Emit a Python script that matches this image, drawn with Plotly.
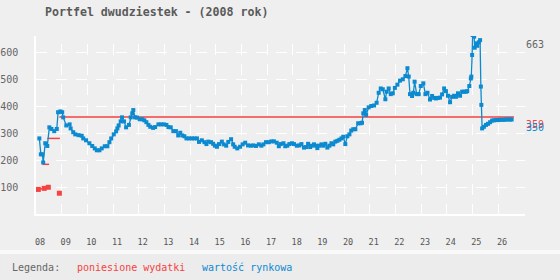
import plotly.graph_objects as go

# ---------------- data ----------------
value_dates = [
    2008.13, 2008.19, 2008.25, 2008.28, 2008.36, 2008.44, 2008.52, 2008.60, 2008.71, 2008.81,
    2008.86, 2008.95, 2009.02, 2009.06, 2009.18, 2009.31, 2009.35, 2009.45, 2009.53, 2009.66,
    2009.78, 2009.84, 2009.95, 2010.08, 2010.19, 2010.29, 2010.37, 2010.47, 2010.56, 2010.68,
    2010.78, 2010.86, 2010.93, 2011.03, 2011.12, 2011.17, 2011.22, 2011.30, 2011.35, 2011.43,
    2011.51, 2011.62, 2011.69, 2011.75, 2011.79, 2011.86, 2011.94, 2012.04, 2012.14, 2012.22,
    2012.30, 2012.38, 2012.45, 2012.56, 2012.64, 2012.77, 2012.87, 2012.98, 2013.08, 2013.16,
    2013.25, 2013.35, 2013.45, 2013.54, 2013.62, 2013.70, 2013.78, 2013.86, 2013.96, 2014.07,
    2014.17, 2014.27, 2014.35, 2014.46, 2014.56, 2014.64, 2014.71, 2014.82, 2014.90, 2014.97,
    2015.05, 2015.13, 2015.24, 2015.31, 2015.41, 2015.49, 2015.60, 2015.68, 2015.74, 2015.84,
    2015.95, 2016.05, 2016.15, 2016.26, 2016.37, 2016.47, 2016.57, 2016.68, 2016.78, 2016.86,
    2016.96, 2017.07, 2017.17, 2017.27, 2017.38, 2017.46, 2017.53, 2017.64, 2017.71, 2017.79,
    2017.87, 2017.97, 2018.05, 2018.16, 2018.26, 2018.34, 2018.44, 2018.52, 2018.60, 2018.68,
    2018.75, 2018.83, 2018.91, 2018.96, 2019.04, 2019.12, 2019.19, 2019.27, 2019.35, 2019.43,
    2019.51, 2019.58, 2019.66, 2019.74, 2019.82, 2019.90, 2019.97, 2020.05, 2020.13, 2020.21,
    2020.28, 2020.36, 2020.44, 2020.55, 2020.65, 2020.70, 2020.75, 2020.81, 2020.86, 2020.96,
    2021.06, 2021.17, 2021.27, 2021.35, 2021.43, 2021.51, 2021.61, 2021.66, 2021.74, 2021.82,
    2021.90, 2021.98, 2022.08, 2022.18, 2022.29, 2022.39, 2022.47, 2022.52, 2022.57, 2022.65,
    2022.70, 2022.75, 2022.83, 2022.91, 2022.99, 2023.09, 2023.17, 2023.25, 2023.35, 2023.43,
    2023.51, 2023.58, 2023.66, 2023.74, 2023.82, 2023.90, 2023.97, 2024.05, 2024.13, 2024.21,
    2024.29, 2024.36, 2024.44, 2024.52, 2024.60, 2024.68, 2024.75, 2024.80, 2024.88, 2024.94,
    2024.96, 2024.99, 2025.01, 2025.07, 2025.09, 2025.14, 2025.19, 2025.25, 2025.30, 2025.33,
    2025.35, 2025.38, 2025.45, 2025.53, 2025.61, 2025.69, 2025.77, 2025.84, 2025.92, 2026.00,
    2026.08, 2026.16, 2026.23, 2026.31, 2026.39, 2026.47, 2026.53,
]
market_values = [
    280, 221, 221, 191, 262, 252, 321, 315, 307, 315,
    377, 380, 377, 358, 328, 332, 317, 303, 295, 292,
    290, 280, 273, 262, 252, 243, 236, 236, 243, 251,
    251, 266, 280, 295, 306, 317, 328, 343, 358, 343,
    321, 330, 358, 373, 385, 358, 357, 351, 351, 347,
    340, 330, 323, 319, 322, 332, 332, 332, 330, 322,
    321, 307, 307, 291, 301, 291, 288, 280, 280, 280,
    280, 280, 267, 273, 266, 259, 268, 266, 260, 253,
    249, 259, 268, 258, 253, 267, 277, 258, 249, 243,
    249, 258, 264, 254, 253, 254, 252, 258, 253, 258,
    266, 266, 269, 269, 264, 251, 259, 262, 251, 253,
    259, 262, 259, 253, 254, 259, 246, 248, 260, 248,
    253, 258, 253, 244, 253, 258, 253, 260, 246, 253,
    262, 258, 268, 271, 275, 280, 286, 259, 288, 295,
    309, 314, 314, 336, 336, 338, 373, 385, 367, 395,
    400, 402, 412, 449, 465, 462, 425, 453, 465, 444,
    447, 467, 479, 494, 499, 511, 540, 509, 444, 437,
    449, 490, 444, 444, 474, 484, 444, 449, 424, 437,
    430, 428, 430, 431, 443, 465, 455, 438, 414, 434,
    438, 434, 447, 438, 453, 453, 453, 455, 474, 502,
    509, 589, 663, 657, 616, 632, 623, 636, 644, 472,
    404, 317, 323, 330, 334, 340, 346, 347, 348, 348,
    349, 349, 349, 350, 350, 350, 350,
]

# incurred expenses: single early payments (None = not connected)
expense_point_dates = [2008.09, 2008.32, None, 2008.48, None, 2008.91]
expense_point_vals = [91, 95, None, 99, None, 77]

# incurred expenses: cumulative levels (start, end, value)
level_start = [2008.25, 2008.44, 2008.91]
level_end = [2008.51, 2008.93, 2026.62]
level_vals = [184, 280, 359]

year_ticks = list(range(2008, 2027))
year_labels = [f"{y % 100:02d}" for y in year_ticks]
value_ticks = [100, 200, 300, 400, 500, 600]

RED = "#f64242"
BLUE = "#0c8ad0"
GRAY = "#666666"
MONO = "DejaVu Sans Mono"

# ---------------- figure ----------------
fig = go.Figure()

lx, ly = [], []
for s, e, v in zip(level_start, level_end, level_vals):
    lx += [s, e, None]
    ly += [v, v, None]

fig.add_trace(go.Scatter(x=lx, y=ly, mode="lines", line=dict(color=RED, width=1.5),
                         connectgaps=False, showlegend=False, hoverinfo="skip"))
fig.add_trace(go.Scatter(x=expense_point_dates, y=expense_point_vals, mode="lines+markers",
                         line=dict(color=RED, width=1.5),
                         marker=dict(symbol="square", size=5, color=RED),
                         connectgaps=False, showlegend=False))
fig.add_trace(go.Scatter(x=value_dates, y=market_values, mode="lines+markers",
                         line=dict(color=BLUE, width=1.3),
                         marker=dict(symbol="square", size=4, color=BLUE, line=dict(width=0)),
                         showlegend=False))

fig.update_layout(
    width=560, height=280,
    margin=dict(l=36, r=35, t=36, b=66, autoexpand=False),
    paper_bgcolor="#efefef",
    plot_bgcolor="#efefef",
    title=dict(text="<b>Portfel dwudziestek - (2008 rok)</b>", x=45 / 560, xanchor="left",
               y=1 - 12 / 280, yanchor="middle",
               font=dict(family=MONO, size=11.6, color="#5a5a5a")),
)

fig.update_xaxes(
    range=[2008, 2027.05], tickmode="array", tickvals=year_ticks, ticktext=year_labels,
    showgrid=True, gridcolor="white", gridwidth=1, griddash="0px,8px,11px,1px",
    showline=True, linecolor="white", linewidth=1.5, zeroline=False, automargin=False,
    ticks="", ticklabelshift=4, ticklabelstandoff=19,
    tickfont=dict(family=MONO, size=8.5, color="#555555"),
)
fig.update_yaxes(
    range=[0, 659.3], tickmode="array", tickvals=value_ticks,
    showgrid=True, gridcolor="white", gridwidth=1, griddash="11px,9px",
    showline=True, linecolor="white", linewidth=1.5, zeroline=False, automargin=False,
    ticks="", ticklabelstandoff=14,
    tickfont=dict(family=MONO, size=10, color=GRAY),
)

# right-side value labels
peak = max(market_values)
fig.add_annotation(x=1, xref="paper", xshift=-1, y=1, yref="paper", yshift=-1, yanchor="top",
                   xanchor="left", text=str(peak), showarrow=False,
                   font=dict(family=MONO, size=10, color=GRAY))
fig.add_annotation(x=1, xref="paper", xshift=-1, y=level_vals[-1], yref="y", yanchor="top",
                   xanchor="left", text=str(level_vals[-1]), showarrow=False,
                   font=dict(family=MONO, size=10, color=RED))
fig.add_annotation(x=1, xref="paper", xshift=-1, y=market_values[-1], yref="y", yanchor="top",
                   xanchor="left", text=str(market_values[-1]), showarrow=False,
                   font=dict(family=MONO, size=10, color=BLUE))

# legend band
PW, PH = 489, 178
def px_x(p):
    return (p - 36) / PW
def px_y(p):
    return (214 - p) / PH

fig.add_shape(type="rect", xref="paper", yref="paper", x0=px_x(0), x1=px_x(560),
              y0=px_y(254), y1=px_y(280), fillcolor="#ececec", line=dict(width=0), layer="below")
fig.add_shape(type="rect", xref="paper", yref="paper", x0=px_x(0), x1=px_x(560),
              y0=px_y(250), y1=px_y(254), fillcolor="#f9f9f9", line=dict(width=0), layer="below")

for txt, px, col in [("Legenda:", 10, GRAY), ("poniesione wydatki", 75, RED),
                     ("wartość rynkowa", 200, BLUE)]:
    fig.add_annotation(x=px_x(px), xref="paper", y=px_y(267), yref="paper", xanchor="left",
                       yanchor="middle", text=txt, showarrow=False,
                       font=dict(family=MONO, size=10, color=col))

fig.write_html("out.html")
